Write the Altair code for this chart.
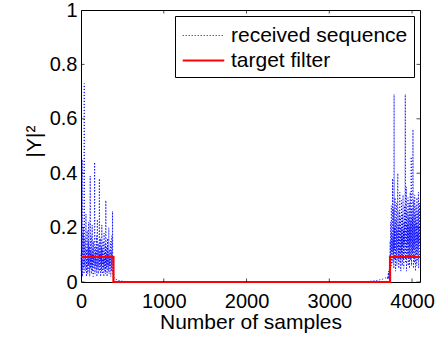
import altair as alt
import pandas as pd

series = ["received sequence", "target filter"]

# |Y|^2 of the received sequence, low band (samples 0..387, step 3)
left_vals = [0.10, 0.04, 0.24, 0.07, 0.13, 0.45, 0.02, 0.09, 0.18, 0.05,
             0.20, 0.08, 0.03, 0.73, 0.06, 0.11, 0.16, 0.04, 0.09, 0.14,
             0.25, 0.07, 0.02, 0.12, 0.05, 0.19, 0.08, 0.03, 0.10, 0.15,
             0.06, 0.22, 0.04, 0.09, 0.13, 0.02, 0.07, 0.39, 0.05, 0.11,
             0.08, 0.17, 0.03, 0.10, 0.06, 0.21, 0.04, 0.12, 0.08, 0.02,
             0.15, 0.07, 0.10, 0.05, 0.19, 0.44, 0.03, 0.09, 0.13, 0.06,
             0.11, 0.04, 0.17, 0.08, 0.02, 0.10, 0.23, 0.05, 0.12, 0.07,
             0.03, 0.14, 0.09, 0.06, 0.38, 0.04, 0.11, 0.08, 0.16, 0.02,
             0.10, 0.06, 0.13, 0.04, 0.21, 0.08, 0.03, 0.12, 0.07, 0.15,
             0.05, 0.09, 0.02, 0.18, 0.06, 0.11, 0.04, 0.08, 0.14, 0.03,
             0.30, 0.07, 0.10, 0.05, 0.13, 0.02, 0.09, 0.16, 0.06, 0.11,
             0.04, 0.08, 0.20, 0.03, 0.10, 0.06, 0.12, 0.05, 0.09, 0.15,
             0.02, 0.07, 0.11, 0.04, 0.17, 0.06, 0.09, 0.26, 0.03, 0.05]
left_start = 0
# high band (samples 3705..4092, step 3)
right_vals = [0.02, 0.01, 0.03, 0.02, 0.04, 0.01, 0.03, 0.05, 0.02, 0.06,
              0.15, 0.04, 0.22, 0.09, 0.13, 0.28, 0.06, 0.18, 0.11, 0.24,
              0.38, 0.07, 0.16, 0.10, 0.27, 0.05, 0.69, 0.12, 0.20, 0.08,
              0.31, 0.14, 0.04, 0.23, 0.17, 0.09, 0.29, 0.06, 0.19, 0.12,
              0.36, 0.40, 0.08, 0.21, 0.14, 0.05, 0.26, 0.10, 0.18, 0.33,
              0.07, 0.15, 0.24, 0.04, 0.20, 0.11, 0.30, 0.09, 0.17, 0.06,
              0.25, 0.13, 0.32, 0.08, 0.19, 0.05, 0.22, 0.14, 0.28, 0.10,
              0.16, 0.69, 0.07, 0.23, 0.12, 0.35, 0.04, 0.18, 0.26, 0.09,
              0.21, 0.14, 0.31, 0.06, 0.17, 0.24, 0.10, 0.29, 0.05, 0.20,
              0.13, 0.33, 0.08, 0.22, 0.15, 0.46, 0.06, 0.19, 0.27, 0.11,
              0.24, 0.09, 0.56, 0.16, 0.05, 0.30, 0.12, 0.21, 0.07, 0.32,
              0.14, 0.25, 0.04, 0.19, 0.28, 0.10, 0.22, 0.06, 0.31, 0.15,
              0.18, 0.08, 0.26, 0.12, 0.33, 0.05, 0.20, 0.14, 0.29, 0.09]
right_start = 3705
step = 3
# stop band samples
gap_x = [400, 420, 450, 500, 600, 3400, 3500, 3580, 3640, 3680, 3700]
gap_vals = [0.015, 0.01, 0.006, 0.003, 0.0, 0.0, 0.003, 0.006, 0.01, 0.015, 0.012]

# target filter
filter_x = [0, 392, 392, 3734, 3734, 4095]
filter_y = [0.092, 0.092, 0.0, 0.0, 0.092, 0.092]

x_ticks = [0, 1000, 2000, 3000, 4000]
y_ticks = [0, 0.2, 0.4, 0.6, 0.8, 1]
x_max = 4096

left_x = [left_start + step * i for i in range(len(left_vals))]
right_x = [right_start + step * i for i in range(len(right_vals))]
pts = sorted(zip(left_x + gap_x + right_x, left_vals + gap_vals + right_vals))

rows = []
for i, (x, y) in enumerate(pts):
    rows.append({"series": series[0], "x": x, "y": y, "order": i})
for i, (x, y) in enumerate(zip(filter_x, filter_y)):
    rows.append({"series": series[1], "x": x, "y": y, "order": i})
df = pd.DataFrame(rows)

FONT = "Liberation Sans"

x_enc = alt.X("x:Q", scale=alt.Scale(domain=[0, x_max], nice=False, zero=False),
              axis=alt.Axis(values=x_ticks, format="d", title="Number of samples",
                            labelFlush=False, labelOverlap=False, labelPadding=9,
                            titleY=46, titleBaseline="alphabetic"))
y_enc = alt.Y("y:Q", scale=alt.Scale(domain=[0, 1], nice=False),
              axis=alt.Axis(values=y_ticks, format="~g", title="|Y|²",
                            labelFlush=False, labelOverlap=False, labelPadding=4,
                            titleX=-41, titleY=131, titleBaseline="alphabetic"))
legend = alt.Legend(title=None, orient="top-right", offset=6, strokeColor="black",
                    fillColor="white", padding=6, labelFont=FONT, labelFontSize=21,
                    labelColor="black", labelOffset=13, symbolSize=676,
                    symbolType="M-1.6,0H1.6", symbolOffset=8, rowPadding=0, labelLimit=0)

base = alt.Chart(df).mark_line().encode(
    x=x_enc,
    y=y_enc,
    color=alt.Color("series:N", scale=alt.Scale(domain=series, range=["#0000ff", "#ff0000"]), legend=legend),
    strokeDash=alt.StrokeDash("series:N", scale=alt.Scale(domain=series, range=[[1, 2], [1, 0]]), legend=legend),
    strokeWidth=alt.StrokeWidth("series:N", scale=alt.Scale(domain=series, range=[1.0, 2.2]), legend=legend),
    order="order:Q",
)
blue = base.transform_filter(alt.datum.series == series[0])
red = base.transform_filter(alt.datum.series == series[1])

# inward frame ticks (MATLAB style box)
tb = pd.DataFrame({"x": x_ticks + x_ticks, "y": [0] * len(x_ticks) + [1] * len(x_ticks)})
lr = pd.DataFrame({"y": y_ticks + y_ticks, "x": [0] * len(y_ticks) + [x_max] * len(y_ticks)})
ticks_tb = alt.Chart(tb).mark_tick(orient="vertical", size=7, thickness=1, color="black", clip=True).encode(x=x_enc, y=y_enc)
ticks_lr = alt.Chart(lr).mark_tick(orient="horizontal", size=7, thickness=1, color="black", clip=True).encode(x=x_enc, y=y_enc)

chart = alt.layer(blue, red, ticks_tb, ticks_lr).properties(
    width=339, height=272,
    padding={"left": 81, "top": 10, "right": 25, "bottom": 58},
    autosize=alt.AutoSizeParams(type="none"),
    background="white",
).configure_view(stroke="black", strokeWidth=1).configure_axis(
    labelFont=FONT, titleFont=FONT, labelFontSize=20, titleFontSize=21,
    labelColor="black", titleColor="black", titleFontWeight="normal",
    domain=False, ticks=False, tickSize=0, grid=False,
)

chart.save("out.html", embed_options={"renderer": "svg", "actions": False})
